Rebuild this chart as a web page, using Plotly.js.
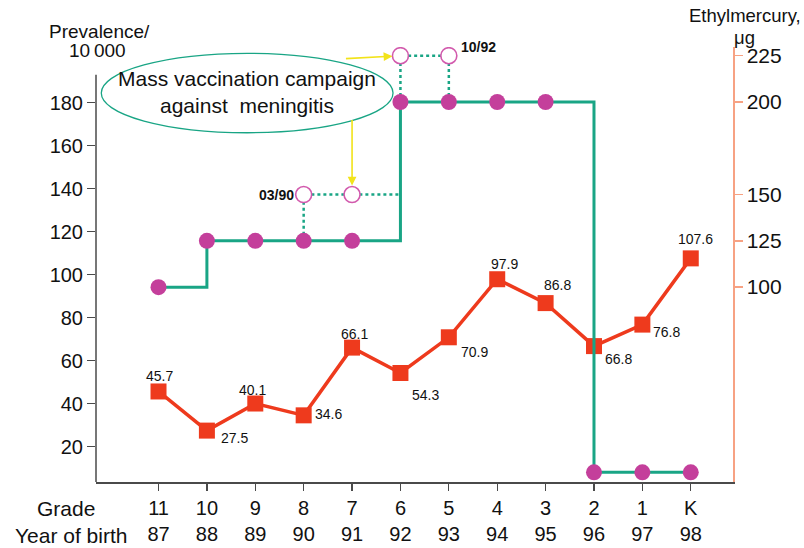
<!DOCTYPE html>
<html>
<head>
<meta charset="utf-8">
<script src="https://cdn.plot.ly/plotly-3.0.1.min.js"></script>
<style>html,body{margin:0;padding:0;background:#fff;}#chart{width:804px;height:548px;}</style>
</head>
<body>
<div id="chart"></div>
<script>
// ---- data ----
const grades = ["11","10","9","8","7","6","5","4","3","2","1","K"];
const birthYears = ["87","88","89","90","91","92","93","94","95","96","97","98"];
const prevalence = [45.7, 27.5, 40.1, 34.6, 66.1, 54.3, 70.9, 97.9, 86.8, 66.8, 76.8, 107.6];
const ethylmercury = [100, 125, 125, 125, 125, 200, 200, 200, 200, 0, 0, 0];
// campaign (03/90 and 10/92) extra exposure
const campaign1Grades = ["8","8","7","6"];
const campaign1Values = [125, 150, 150, 150];
const campaign2Grades = ["6","6","5","5"];
const campaign2Values = [200, 225, 225, 200];
const openGrades = ["8","7","6","5"];
const openValues = [150, 150, 225, 225];
const leftTicks = [20, 40, 60, 80, 100, 120, 140, 160, 180];
const rightTicks = [100, 125, 150, 200, 225];

// ---- styling / layout helpers ----
const idx = g => grades.indexOf(g);
const xs = grades.map((g, i) => i);
const labelShift = [[1,-15],[28,7],[-3,-14],[25,-1],[2,-14],[25,22],[26,15],[7,-15],[12,-18],[25,13],[24,7],[5,-19]];
const FONT = "Liberation Sans, Arial, Helvetica, sans-serif";
const GREEN = "#19a585", PINK = "#c43f9b", RED = "#ee3a1d", SALMON = "#f7a283", AXIS = "#4a4a4a";

const traces = [
  { x: xs, y: prevalence, type: "scatter", mode: "lines+markers", yaxis: "y",
    line: {color: RED, width: 3.5}, marker: {symbol: "square", size: 16, color: RED},
    hoverinfo: "skip", showlegend: false },
  { x: campaign1Grades.map(idx), y: campaign1Values, yaxis: "y2", type: "scatter", mode: "lines",
    line: {color: GREEN, width: 2.5, dash: "dot"}, hoverinfo: "skip", showlegend: false },
  { x: campaign2Grades.map(idx), y: campaign2Values, yaxis: "y2", type: "scatter", mode: "lines",
    line: {color: GREEN, width: 2.5, dash: "dot"}, hoverinfo: "skip", showlegend: false },
  { x: xs, y: ethylmercury, yaxis: "y2", type: "scatter", mode: "lines+markers",
    line: {color: GREEN, width: 3, shape: "hv"}, marker: {symbol: "circle", size: 16, color: PINK},
    hoverinfo: "skip", showlegend: false },
  { x: openGrades.map(idx), y: openValues, yaxis: "y2", type: "scatter", mode: "markers",
    marker: {symbol: "circle", size: 16, color: "#ffffff", line: {color: "#d25aad", width: 1.6}},
    hoverinfo: "skip", showlegend: false }
];

const annotations = prevalence.map((v, i) => ({
  x: i, y: v, xref: "x", yref: "y", text: v.toFixed(1), showarrow: false,
  xanchor: "center", yanchor: "middle",
  xshift: labelShift[i][0], yshift: -labelShift[i][1],
  font: {family: FONT, size: 14, color: "#111"}
}));

function paperText(x, y, text, size) {
  return {x: x, y: y, xref: "paper", yref: "paper", text: text, showarrow: false,
          xanchor: "center", yanchor: "middle", font: {family: FONT, size: size, color: "#111"}};
}

annotations.push(
  {x: idx("8"), y: 150, xref: "x", yref: "y2", text: "<b>03/90</b>", showarrow: false,
   xanchor: "right", yanchor: "middle", xshift: -8, font: {family: FONT, size: 14, color: "#111"}},
  {x: idx("5"), y: 225, xref: "x", yref: "y2", text: "<b>10/92</b>", showarrow: false,
   xanchor: "left", yanchor: "middle", xshift: 10, yshift: 9, font: {family: FONT, size: 14, color: "#111"}},
  {x: idx("6"), y: 225, xref: "x", yref: "y2", text: "", showarrow: true, ax: -56, ay: 3,
   standoff: 8, arrowcolor: "#f2e31a", arrowwidth: 1.6, arrowhead: 2, arrowsize: 1.1},
  {x: idx("7"), y: 150, xref: "x", yref: "y2", text: "", showarrow: true, ax: 0, ay: -76,
   standoff: 9, arrowcolor: "#f2e31a", arrowwidth: 1.6, arrowhead: 2, arrowsize: 1.1},
  paperText(0.2373, 0.8965, "Mass vaccination campaign<br>against\u00a0 meningitis", 21),
  paperText(0.0052, 1.0352, "Prevalence/", 19),
  paperText(0.0028, 0.9931, "10\u2009000", 19),
  paperText(1.0184, 1.0735, "Ethylmercury,", 18.5),
  paperText(1.0184, 1.0225, "\u03bcg", 18.5),
  Object.assign(paperText(-0.0466, 0, "Grade", 21), {yshift: -26}),
  Object.assign(paperText(-0.0388, 0, "Year of birth", 21), {yshift: -53})
);

const layout = {
  width: 804, height: 548,
  margin: {l: 96, r: 71, t: 47, b: 66, pad: 0},
  paper_bgcolor: "#fff", plot_bgcolor: "#fff",
  font: {family: FONT, color: "#111"},
  showlegend: false,
  xaxis: {
    range: [-1.292, 11.873], tickmode: "array", tickvals: xs,
    ticktext: grades.map((g, i) => g + "<br>" + birthYears[i]),
    showgrid: false, zeroline: false, showline: true, linecolor: AXIS, linewidth: 1.5,
    ticks: "outside", ticklen: 7, tickwidth: 1.3, tickcolor: AXIS,
    tickfont: {family: FONT, size: 20, color: "#111"}
  },
  yaxis: {
    range: [3.6, 205.9], tickmode: "array", tickvals: leftTicks,
    showgrid: false, zeroline: false, showline: false,
    ticks: "outside", ticklen: 8, tickwidth: 1.3, tickcolor: AXIS,
    tickfont: {family: FONT, size: 20, color: "#111"}
  },
  yaxis2: {
    overlaying: "y", side: "right", range: [-5.24, 229.7], tickmode: "array", tickvals: rightTicks,
    showgrid: false, zeroline: false, showline: true, linecolor: SALMON, linewidth: 1.5,
    ticks: "outside", ticklen: 8, tickwidth: 1.3, tickcolor: SALMON,
    tickfont: {family: FONT, size: 21, color: "#111"}
  },
  shapes: [
    {type: "line", xref: "paper", yref: "y", x0: 0, x1: 0, y0: 3.6, y1: 193,
     line: {color: AXIS, width: 1.5}},
    {type: "circle", xref: "paper", yref: "paper", x0: 0.0083, x1: 0.4663, y0: 0.8029, y1: 0.9855,
     line: {color: GREEN, width: 1.3}, layer: "above"}
  ],
  annotations: annotations
};

Plotly.newPlot("chart", traces, layout, {displayModeBar: false, staticPlot: true});
</script>
</body>
</html>
